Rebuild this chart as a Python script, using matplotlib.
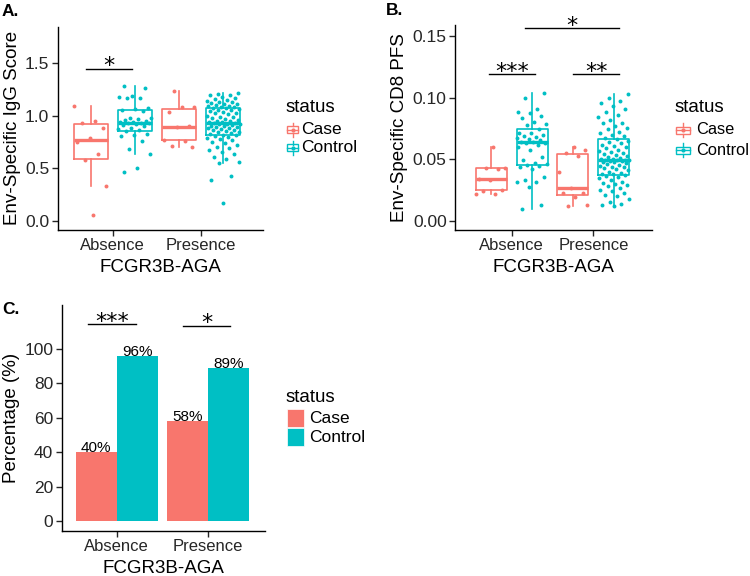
import numpy as np
import matplotlib
matplotlib.use('Agg')
import matplotlib.pyplot as plt
from matplotlib.patches import Rectangle
from matplotlib.lines import Line2D

plt.rcParams['font.family'] = ['Liberation Sans', 'DejaVu Sans']

CASE = '#F8766D'
CONTROL = '#00BFC4'
TXT = '#262626'

genotypes = ['Absence', 'Presence']
statuses = ['Case', 'Control']

# A. Env-Specific IgG Score
igg_case_absence = [1.093, 0.948, 0.932, 0.885, 0.784, 0.752, 0.638, 0.575, 0.329, 0.06]
igg_control_absence = [1.283, 1.264, 1.188, 1.178, 1.166, 1.163, 1.074, 1.06, 1.052, 1.045,
                       0.973, 0.973, 0.965, 0.955, 0.948, 0.941, 0.938, 0.932, 0.930, 0.925,
                       0.92, 0.91, 0.90, 0.885, 0.87, 0.86, 0.85, 0.825, 0.815, 0.806,
                       0.758, 0.682, 0.638, 0.505, 0.462]
igg_case_presence = [1.235, 1.083, 1.078, 1.03, 0.90, 0.888, 0.772, 0.762, 0.711, 0.705]
igg_control_presence = [0.171, 0.392, 0.43, 0.547, 0.56, 0.585, 0.61, 0.64, 0.655, 0.67,
                        0.69, 0.70, 0.72, 0.74, 0.75, 0.765, 0.78, 0.79, 0.80, 0.808,
                        0.815, 0.82, 0.825, 0.83, 0.84, 0.845, 0.85, 0.86, 0.865, 0.87,
                        0.88, 0.885, 0.89, 0.895, 0.90, 0.905, 0.91, 0.915, 0.92, 0.923,
                        0.926, 0.93, 0.935, 0.94, 0.945, 0.95, 0.96, 0.97, 0.975, 0.985,
                        0.99, 1.0, 1.01, 1.02, 1.025, 1.035, 1.04, 1.05, 1.055, 1.062,
                        1.068, 1.075, 1.08, 1.085, 1.09, 1.095, 1.10, 1.105, 1.11, 1.12,
                        1.125, 1.13, 1.14, 1.15, 1.16, 1.17, 1.18, 1.19, 1.195, 1.20, 1.21]

# B. Env-Specific CD8 PFS
pfs_case_absence = [0.0215, 0.022, 0.0245, 0.0255, 0.0335, 0.034, 0.042, 0.0428, 0.0432, 0.0603]
pfs_control_absence = [0.0095, 0.013, 0.0278, 0.0319, 0.0319, 0.0332, 0.0359, 0.0419, 0.044, 0.045,
                       0.0454, 0.046, 0.0468, 0.0495, 0.052, 0.0576, 0.0603, 0.062, 0.0632, 0.0636,
                       0.0638, 0.0643, 0.0655, 0.0665, 0.067, 0.0685, 0.069, 0.070, 0.0711, 0.0716,
                       0.0746, 0.0778, 0.079, 0.0805, 0.0832, 0.085, 0.088, 0.0886, 0.0908, 0.100, 0.104]
pfs_case_presence = [0.0122, 0.0127, 0.0192, 0.0224, 0.0226, 0.027, 0.0397, 0.0527, 0.0553, 0.0576, 0.0597]
pfs_control_presence = [0.0122, 0.013, 0.014, 0.0155, 0.018, 0.020, 0.021, 0.0225, 0.024, 0.0255,
                        0.027, 0.028, 0.029, 0.030, 0.031, 0.032, 0.0335, 0.0345, 0.036, 0.0368,
                        0.0373, 0.038, 0.0385, 0.039, 0.040, 0.041, 0.042, 0.043, 0.0435, 0.044,
                        0.045, 0.0455, 0.046, 0.047, 0.0475, 0.048, 0.0485, 0.049, 0.0492, 0.0494,
                        0.0495, 0.0497, 0.050, 0.0505, 0.051, 0.052, 0.053, 0.0535, 0.054, 0.055,
                        0.056, 0.057, 0.058, 0.059, 0.060, 0.061, 0.062, 0.063, 0.064, 0.065,
                        0.0662, 0.0675, 0.0689, 0.070, 0.0711, 0.0725, 0.0743, 0.0757, 0.077, 0.0792,
                        0.0797, 0.082, 0.084, 0.086, 0.0885, 0.0906, 0.093, 0.096, 0.0976, 0.0995, 0.103]

# C. Percentage
pct_case = [40, 58]
pct_control = [96, 89]

# significance annotations: (x start, x end, y, label)
sig_a = [(0.70, 1.22, 1.443, '*')]
sig_b = [(0.72, 1.28, 0.1192, '***'), (1.75, 2.32, 0.1192, '**'), (1.16, 2.32, 0.1562, '*')]
sig_c = [(0.69, 1.21, 114.4, '***'), (1.73, 2.25, 113.5, '*')]

W, H = 750, 576
fig = plt.figure(figsize=(W / 100, H / 100), dpi=100)


def px_axes(x0, y0, x1, y1):
    return fig.add_axes([x0 / W, 1 - y1 / H, (x1 - x0) / W, (y1 - y0) / H])


def style(ax):
    for sp in ['top', 'right']:
        ax.spines[sp].set_visible(False)
    for sp in ['left', 'bottom']:
        ax.spines[sp].set_linewidth(1.0)
        ax.spines[sp].set_color('black')
    ax.tick_params(length=4, width=1.0, color=TXT, labelcolor=TXT, labelsize=12, pad=2)
    ax.tick_params(axis='y', labelsize=12.5)


def jitter(n, phase=0.0, width=0.19):
    return ((np.arange(n) * 0.6180339887 + phase) % 1.0 - 0.5) * 2 * width


def box_panel(ax, groups):
    k = 0
    for gi, g in enumerate(genotypes):
        for si, col in enumerate([CASE, CONTROL]):
            data = np.array(groups[gi][si])
            pos = gi + 1 + (-0.25 if si == 0 else 0.25)
            ax.boxplot([data], positions=[pos], widths=0.38, showfliers=False, showcaps=False,
                       boxprops=dict(color=col, lw=1.2), whiskerprops=dict(color=col, lw=1.2),
                       medianprops=dict(color=col, lw=2.4))
            ax.scatter(pos + jitter(len(data), phase=0.17 * k), data, s=8, color=col,
                       linewidths=0, zorder=3)
            k += 1
    ax.set_xticks([1, 2], genotypes)


def add_sig(ax, sigs, off=-2.5):
    for x0, x1, y, lab in sigs:
        ax.plot([x0, x1], [y, y], color='black', lw=1.0, clip_on=False)
        ax.annotate(lab, ((x0 + x1) / 2, y), xytext=(0, off), textcoords='offset points',
                    ha='center', va='baseline', fontsize=16, family='DejaVu Sans',
                    annotation_clip=False)


def box_key(x0, yc, w, col):
    h = 7
    xc = x0 + w / 2
    fig.add_artist(Rectangle((x0 / W, 1 - (yc + h / 2) / H), w / W, h / H, fill=False,
                             edgecolor=col, lw=1.0, transform=fig.transFigure))
    for ya, yb in [(yc - 7, yc - h / 2), (yc + h / 2, yc + 7)]:
        fig.add_artist(Line2D([xc / W, xc / W], [1 - ya / H, 1 - yb / H], color=col, lw=1.0,
                              transform=fig.transFigure))
    fig.add_artist(Line2D([x0 / W, (x0 + w) / W], [1 - yc / H, 1 - yc / H], color=col, lw=1.0,
                          transform=fig.transFigure))
    fig.add_artist(Line2D([xc / W], [1 - yc / H], marker='o', ms=2, color=col, lw=0,
                          transform=fig.transFigure))


def legend_text(x, y, s, size=12.5):
    fig.text(x / W, 1 - y / H, s, fontsize=size, ha='left', va='center', color='black')


# panel A
axA = px_axes(57.7, 26.7, 263.3, 230)
style(axA)
box_panel(axA, [[igg_case_absence, igg_control_absence], [igg_case_presence, igg_control_presence]])
axA.set_xlim(0.375, 2.706)
axA.set_ylim(-0.085, 1.842)
axA.set_yticks([0, 0.5, 1.0, 1.5], ['0.0', '0.5', '1.0', '1.5'])
axA.set_xlabel('FCGR3B-AGA', fontsize=13.5, labelpad=4)
axA.set_ylabel('Env-Specific IgG Score', fontsize=13.5, labelpad=3)
add_sig(axA, sig_a)

# panel B
axB = px_axes(455, 25, 651.7, 230)
style(axB)
box_panel(axB, [[pfs_case_absence, pfs_control_absence], [pfs_case_presence, pfs_control_presence]])
axB.set_xlim(0.306, 2.715)
axB.set_ylim(-0.0073, 0.159)
axB.set_yticks([0, 0.05, 0.10, 0.15], ['0.00', '0.05', '0.10', '0.15'])
axB.set_xlabel('FCGR3B-AGA', fontsize=13.5, labelpad=4)
axB.set_ylabel('Env-Specific CD8 PFS', fontsize=13.5, labelpad=3)
add_sig(axB, sig_b)

# panel C
axC = px_axes(61.7, 305, 265, 531)
style(axC)
xc = np.arange(1, len(genotypes) + 1)
bars_case = axC.bar(xc - 0.225, pct_case, width=0.45, color=CASE)
bars_ctrl = axC.bar(xc + 0.225, pct_control, width=0.45, color=CONTROL)
for bars, vals in [(bars_case, pct_case), (bars_ctrl, pct_control)]:
    for b, v in zip(bars, vals):
        axC.text(b.get_x() + b.get_width() / 2, v, '%d%%' % v, ha='center', va='baseline',
                 fontsize=11, color='black')
axC.set_xticks(xc, genotypes)
axC.set_xlim(0.396, 2.63)
axC.set_ylim(-5.8, 125.6)
axC.set_yticks([0, 20, 40, 60, 80, 100])
axC.set_xlabel('FCGR3B-AGA', fontsize=13.5, labelpad=4)
axC.set_ylabel('Percentage (%)', fontsize=13.5, labelpad=3)
add_sig(axC, sig_c)

# panel letters
fig.text(2 / W, 1 - 4 / H, 'A.', fontsize=12.5, fontweight='bold', va='top', ha='left')
fig.text(386 / W, 1 - 3 / H, 'B.', fontsize=12.5, fontweight='bold', va='top', ha='left')
fig.text(2 / W, 1 - 302 / H, 'C.', fontsize=12.5, fontweight='bold', va='top', ha='left')

# legends
legend_text(286, 108, 'status', 13.5)
box_key(287, 129.5, 11, CASE)
box_key(287, 148, 11, CONTROL)
legend_text(301, 129.5, statuses[0])
legend_text(301, 148, statuses[1])

legend_text(675, 108, 'status', 13.5)
box_key(676, 130, 14, CASE)
box_key(676, 150, 14, CONTROL)
legend_text(696, 130, statuses[0], 11.8)
legend_text(696, 150, statuses[1], 11.8)

legend_text(286, 397, 'status', 13.5)
for i, (s, col) in enumerate(zip(statuses, [CASE, CONTROL])):
    y0 = 409 + i * 18.5
    fig.add_artist(Rectangle((287 / W, 1 - (y0 + 18) / H), 17 / W, 18 / H, facecolor=col,
                             edgecolor='white', lw=0.5, transform=fig.transFigure))
    legend_text(309, y0 + 9.5, s)

fig.savefig('out.png', dpi=100)
